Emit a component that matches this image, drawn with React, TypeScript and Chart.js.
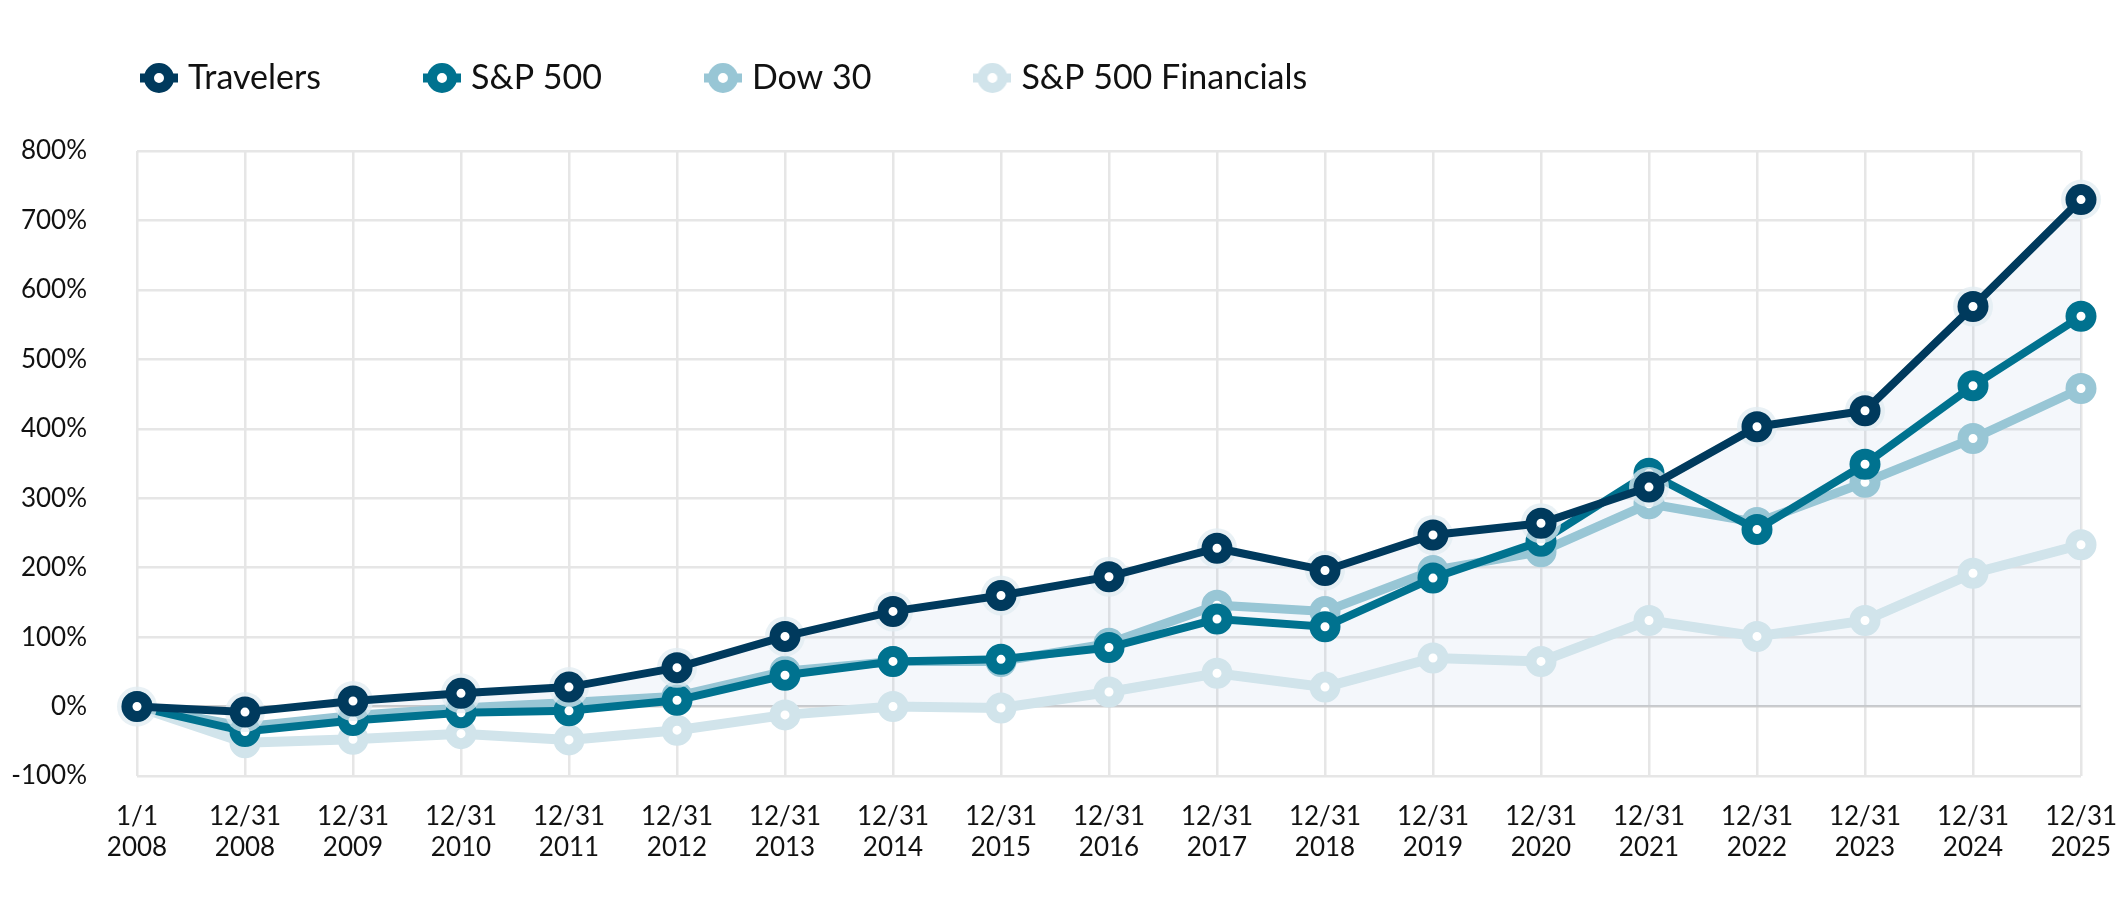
import React, { useEffect, useRef } from "react";
import { Chart, registerables } from "chart.js";

Chart.register(...registerables);

const categories: string[][] = [
  ["1/1", "2008"],
  ["12/31", "2008"],
  ["12/31", "2009"],
  ["12/31", "2010"],
  ["12/31", "2011"],
  ["12/31", "2012"],
  ["12/31", "2013"],
  ["12/31", "2014"],
  ["12/31", "2015"],
  ["12/31", "2016"],
  ["12/31", "2017"],
  ["12/31", "2018"],
  ["12/31", "2019"],
  ["12/31", "2020"],
  ["12/31", "2021"],
  ["12/31", "2022"],
  ["12/31", "2023"],
  ["12/31", "2024"],
  ["12/31", "2025"],
];

const seriesNames = ["Travelers", "S&P 500", "Dow 30", "S&P 500 Financials"];
const travelers = [0, -8, 8, 19, 28, 56, 101, 137, 160, 187, 228, 196, 247, 264, 316, 403, 426, 576, 730];
const sp500 = [0, -36, -20, -9, -6, 9, 45, 65, 68, 85, 126, 115, 185, 238, 336, 255, 349, 462, 562];
const dow30 = [0, -29, -13, -2, 6, 15, 51, 65, 65, 91, 146, 137, 196, 223, 292, 265, 323, 386, 458];
const financials = [0, -52, -47, -39, -48, -34, -12, 0, -2, 21, 48, 28, 70, 65, 124, 101, 124, 192, 233];
const yTicks = [-100, 0, 100, 200, 300, 400, 500, 600, 700, 800];

const colors = ["#003a5d", "#00728f", "#98c6d5", "#d1e4eb"];
const lineWidths = [8, 8, 9, 10];

function makeMarker(color: string): HTMLCanvasElement {
  const c = document.createElement("canvas");
  c.width = 38;
  c.height = 34;
  const g = c.getContext("2d")!;
  g.strokeStyle = color;
  g.lineWidth = 9;
  g.beginPath();
  g.moveTo(0, 17);
  g.lineTo(38, 17);
  g.stroke();
  g.beginPath();
  g.arc(19, 17, 10, 0, Math.PI * 2);
  g.fillStyle = "#ffffff";
  g.fill();
  g.lineWidth = 10;
  g.stroke();
  return c;
}

const haloPlugin = {
  id: "halo",
  afterLayout(chart: any) {
    // let y tick labels extend left of the axis box without being clipped
    if (chart.scales.y) chart.scales.y.left = 0;
  },
  beforeDatasetDraw(chart: any, args: any) {
    if (args.index !== 0) return;
    const ctx = chart.ctx;
    ctx.save();
    ctx.fillStyle = "rgba(226,236,242,0.75)";
    args.meta.data.forEach((pt: any) => {
      ctx.beginPath();
      ctx.arc(pt.x, pt.y, 20, 0, Math.PI * 2);
      ctx.fill();
    });
    ctx.restore();
  },
};

export default function App() {
  const ref = useRef<HTMLCanvasElement | null>(null);

  useEffect(() => {
    if (!ref.current) return;
    Chart.defaults.font.family = "Lato, 'Noto Sans', sans-serif";
    const markers = colors.map(makeMarker);
    const values = [travelers, sp500, dow30, financials];

    const datasets = values.map((data, i) => ({
      label: seriesNames[i],
      data,
      borderColor: colors[i],
      backgroundColor: i === 0 ? "rgba(30,100,170,0.05)" : colors[i],
      fill: i === 0 ? "origin" : false,
      borderWidth: lineWidths[i],
      pointRadius: 10,
      pointHoverRadius: 10,
      pointBorderWidth: 11,
      pointBackgroundColor: "#ffffff",
      pointBorderColor: colors[i],
      tension: 0,
      clip: false as any,
    }));

    const chart = new Chart(ref.current, {
      type: "line",
      data: { labels: categories, datasets },
      plugins: [haloPlugin],
      options: {
        animation: false,
        responsive: false,
        devicePixelRatio: 1,
        layout: { padding: { left: 38, right: 38, top: -48, bottom: 0 } },
        plugins: {
          filler: { drawTime: "beforeDatasetsDraw" },
          tooltip: { enabled: false },
          title: {
            display: true,
            text: "",
            weight: 500,
            padding: 0,
            font: { size: 46, lineHeight: 1 },
          },
          legend: {
            position: "top",
            align: "start",
            labels: {
              usePointStyle: true,
              pointStyleWidth: 24,
              padding: 109,
              color: "#111111",
              font: { size: 34, family: "Lato, 'Noto Sans', sans-serif" },
              generateLabels: (c: any) =>
                Chart.defaults.plugins.legend.labels
                  .generateLabels(c)
                  .map((l: any, i: number) => ({ ...l, pointStyle: markers[i] })),
            },
          },
        },
        scales: {
          x: {
            offset: false,
            border: { display: false },
            grid: { color: "#e6e6e6", lineWidth: 2.5, drawTicks: false },
            ticks: {
              color: "#111111",
              padding: 26,
              maxRotation: 0,
              autoSkip: false,
              font: { size: 26, lineHeight: 1.16 },
            },
            afterFit: (s: any) => {
              s.height = 125;
              s.paddingLeft = 0;
              s.paddingRight = 36;
            },
          },
          y: {
            min: -100,
            max: 800,
            border: { display: false },
            grid: {
              color: (ctx: any) => (ctx.tick && ctx.tick.value === 0 ? "#cfcfcf" : "#e6e6e6"),
              lineWidth: 2.5,
              drawTicks: false,
            },
            afterBuildTicks: (s: any) => {
              s.ticks = yTicks.map((v) => ({ value: v }));
            },
            ticks: {
              color: "#111111",
              padding: 50,
              font: { size: 26 },
              callback: (v: any) => `${v}%`,
            },
            afterFit: (s: any) => {
              s.width = 99;
            },
          },
        },
      },
    } as any);

    return () => chart.destroy();
  }, []);

  return (
    <div style={{ position: "absolute", left: 0, top: 0, width: 2119, height: 901, background: "#fff" }}>
      <canvas ref={ref} width={2119} height={901} />
    </div>
  );
}
